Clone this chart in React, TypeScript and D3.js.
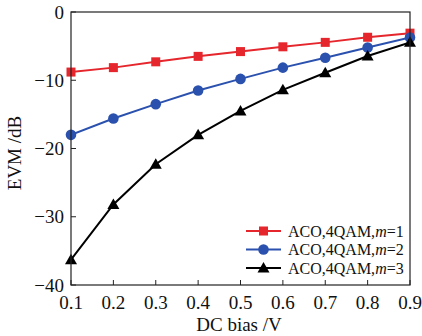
import React from "react";
import * as d3 from "d3";

const xValues = [0.1, 0.2, 0.3, 0.4, 0.5, 0.6, 0.7, 0.8, 0.9];
const m1 = [-8.8, -8.15, -7.3, -6.5, -5.8, -5.1, -4.45, -3.7, -3.1];
const m2 = [-18.0, -15.6, -13.5, -11.5, -9.8, -8.15, -6.7, -5.2, -3.75];
const m3 = [-36.3, -28.2, -22.3, -18.0, -14.5, -11.4, -8.9, -6.45, -4.45];
const seriesNames = ["ACO,4QAM,", "ACO,4QAM,", "ACO,4QAM,"];
const seriesM = ["1", "2", "3"];
const xTicks = [0.1, 0.2, 0.3, 0.4, 0.5, 0.6, 0.7, 0.8, 0.9];
const yTicks = [0, -10, -20, -30, -40];

const W = 422, H = 336;
const L = 71, R = 410, T = 12, B = 285;
const font = "'Liberation Serif', 'DejaVu Serif', serif";

export default function App() {
  const x = d3.scaleLinear().domain([0.1, 0.9]).range([L, R]);
  const y = d3.scaleLinear().domain([-40, 0]).range([B, T]);
  const line = d3.line<number>().x((_, i) => x(xValues[i])).y((d) => y(d));
  const series = [
    { data: m1, color: "#e5262c", marker: "square" },
    { data: m2, color: "#2b51ae", marker: "circle" },
    { data: m3, color: "#000000", marker: "triangle" },
  ];
  const marker = (type: string, cx: number, cy: number, color: string, key: any) => {
    if (type === "square") return <rect key={key} x={cx - 4.5} y={cy - 4.5} width={9} height={9} fill={color} />;
    if (type === "circle") return <circle key={key} cx={cx} cy={cy} r={5.3} fill={color} />;
    return <path key={key} d={`M${cx},${cy - 6} L${cx + 6},${cy + 4.5} L${cx - 6},${cy + 4.5} Z`} fill={color} />;
  };
  return (
    <svg width={W} height={H} style={{ position: "absolute", left: 0, top: 0, background: "#fff" }}>
      <defs>
        <clipPath id="clip"><rect x={L} y={T} width={R - L} height={B - T} /></clipPath>
      </defs>
      {xTicks.map((t) => (
        <g key={"xt" + t}>
          <line x1={x(t)} x2={x(t)} y1={B} y2={B - 5} stroke="#222" strokeWidth={1} />
          <text x={x(t)} y={309} textAnchor="middle" fontFamily={font} fontSize={19} fill="#111">{t.toFixed(1)}</text>
        </g>
      ))}
      {yTicks.map((t) => (
        <g key={"yt" + t}>
          <line x1={L} x2={L + 5} y1={y(t)} y2={y(t)} stroke="#222" strokeWidth={1} />
          <text x={64} y={y(t) + 6.5} textAnchor="end" fontFamily={font} fontSize={19} fill="#111">{t < 0 ? "\u2212" + Math.abs(t) : t}</text>
        </g>
      ))}
      <g clipPath="url(#clip)">
        {series.map((s, si) => (
          <path key={"l" + si} d={line(s.data) || ""} fill="none" stroke={s.color} strokeWidth={2} />
        ))}
      </g>
      {series.map((s, si) => (
        <g key={"m" + si}>
          {s.data.map((v, i) => marker(s.marker, x(xValues[i]), y(v), s.color, i))}
        </g>
      ))}
      <rect x={L} y={T} width={R - L} height={B - T} fill="none" stroke="#222" strokeWidth={1.2} />
      {series.map((s, si) => {
        const ly = 231 + si * 18.5;
        return (
          <g key={"lg" + si}>
            <line x1={246} x2={281} y1={ly} y2={ly} stroke={s.color} strokeWidth={2} />
            {marker(s.marker, 263.5, ly, s.color, "lm")}
            <text x={288} y={ly + 5.5} fontFamily={font} fontSize={16} fill="#111">
              {seriesNames[si]}
              <tspan fontStyle="italic">m</tspan>=
              {seriesM[si]}
            </text>
          </g>
        );
      })}
      <text x={239} y={331} textAnchor="middle" fontFamily={font} fontSize={19} fill="#111">DC bias /V</text>
      <text transform={`translate(21,153) rotate(-90)`} textAnchor="middle" fontFamily={font} fontSize={19} fill="#111">EVM /dB</text>
    </svg>
  );
}
